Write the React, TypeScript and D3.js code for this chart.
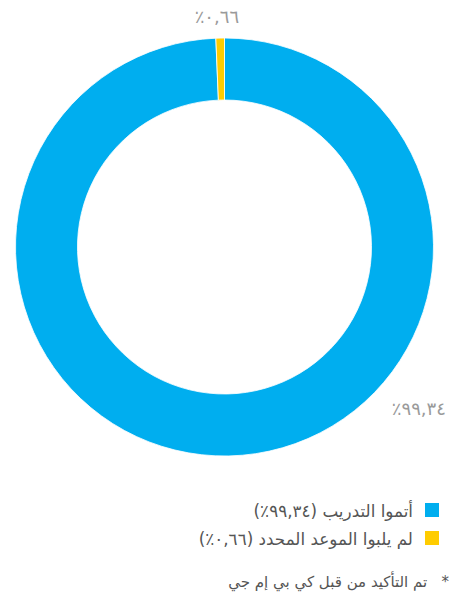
import React, { useEffect, useRef } from "react";
import * as d3 from "d3";

// chart data
const categories = ["أتموا التدريب", "لم يلبوا الموعد المحدد"];
const values = [99.34, 0.66];
const valueLabels = ["٩٩,٣٤٪", "٠,٦٦٪"];
const colors = ["#00aeef", "#ffcc00"];
const footnote = "*   تم التأكيد من قبل كي بي إم جي";

function DonutChart() {
  const ref = useRef<SVGSVGElement | null>(null);
  const width = 452;
  const height = 598;
  const cx = 224.5;
  const cy = 247;
  const outerR = 209;
  const innerR = 147;
  const font = "'DejaVu Sans', sans-serif";

  useEffect(() => {
    document.body.style.margin = "0";
    const svg = d3.select(ref.current);
    svg.selectAll("*").remove();
    svg.attr("width", width).attr("height", height).attr("viewBox", [0, 0, width, height]);

    const data = categories.map((c, i) => ({ name: c, value: values[i], label: valueLabels[i], color: colors[i] }));
    const pie = d3.pie<any>().sort(null).value((d) => d.value);
    const arc = d3.arc<any>().innerRadius(innerR).outerRadius(outerR);
    const arcs = pie(data);

    const g = svg.append("g").attr("transform", `translate(${cx},${cy})`);
    g.selectAll("path")
      .data(arcs)
      .join("path")
      .attr("d", arc)
      .attr("fill", (d) => d.data.color)
      .attr("stroke", "#fff")
      .attr("stroke-width", 0.8);

    // outside value labels
    const labelPos = [
      { angle: 129.8, r: 253 },
      { angle: -1.9, r: 230 },
    ];
    g.selectAll("text.val")
      .data(arcs)
      .join("text")
      .attr("class", "val")
      .attr("x", (d, i) => labelPos[i].r * Math.sin((labelPos[i].angle * Math.PI) / 180))
      .attr("y", (d, i) => -labelPos[i].r * Math.cos((labelPos[i].angle * Math.PI) / 180))
      .attr("dy", "0.35em")
      .attr("text-anchor", "middle")
      .attr("direction", "rtl")
      .attr("font-family", font)
      .attr("font-size", 18)
      .attr("fill", "#9a9a9a")
      .text((d) => d.data.label);

    // legend
    const legend = svg.append("g");
    const item = legend
      .selectAll("g")
      .data(data)
      .join("g")
      .attr("transform", (d, i) => `translate(0,${503 + i * 28})`);
    item
      .append("rect")
      .attr("x", 425)
      .attr("width", 14)
      .attr("height", 14)
      .attr("fill", (d) => d.color);
    item
      .append("text")
      .attr("x", 413)
      .attr("y", 8)
      .attr("dy", "0.35em")
      .attr("direction", "rtl")
      .attr("text-anchor", "start")
      .attr("font-family", font)
      .attr("font-size", 16.8)
      .attr("fill", "#555")
      .text((d) => `${d.name} (${d.label})`);

    svg
      .append("text")
      .attr("x", 449)
      .attr("y", 582)
      .attr("dy", "0.35em")
      .attr("direction", "rtl")
      .attr("text-anchor", "start")
      .attr("font-family", font)
      .attr("font-size", 15)
      .attr("fill", "#555")
      .style("white-space", "pre")
      .text(footnote);
  }, []);

  return <svg ref={ref} style={{ display: "block" }}></svg>;
}

export default function App() {
  return <DonutChart />;
}
